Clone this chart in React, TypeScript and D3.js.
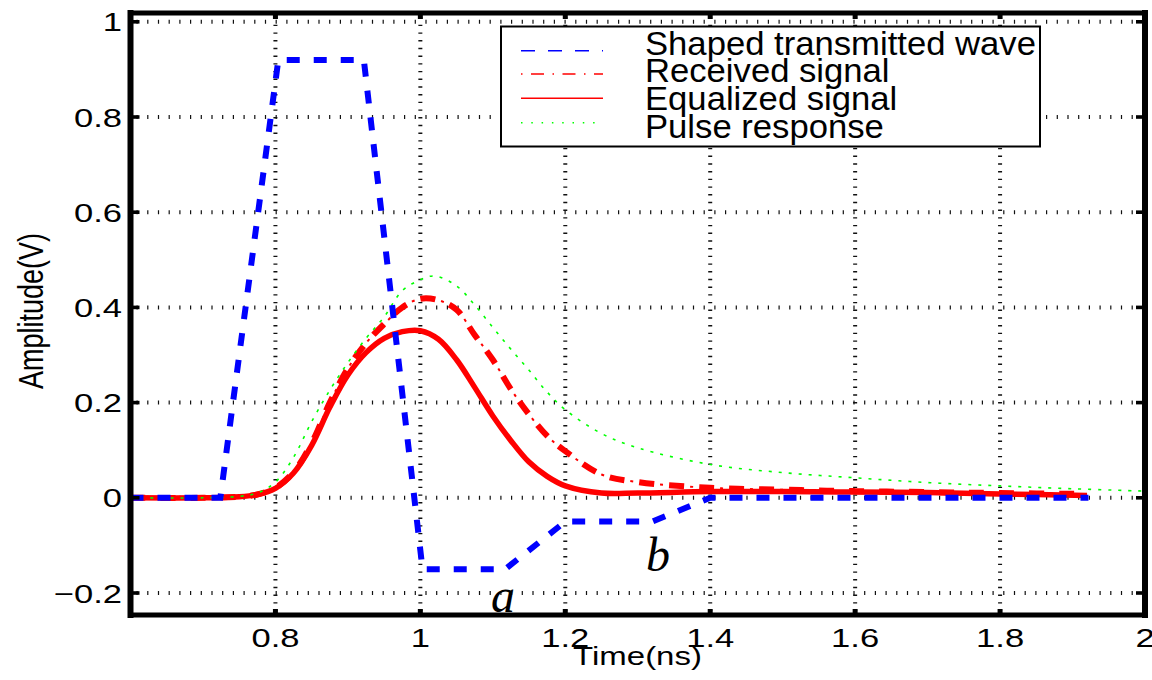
import React from "react";
import * as d3 from "d3";

// values
const shapedT = [0.6, 0.724, 0.804, 0.922, 1.003, 1.117, 1.2, 1.32, 1.4, 1.922];
const shapedV = [0, 0, 0.92, 0.92, -0.15, -0.15, -0.05, -0.05, 0, 0];

const sigT = [0.6, 0.7, 0.75, 0.775, 0.8, 0.825, 0.85, 0.875, 0.9, 0.925, 0.95, 0.975, 1.0, 1.025, 1.05, 1.075, 1.1, 1.125, 1.15, 1.175, 1.2, 1.25, 1.3, 1.4, 1.5, 1.6, 1.7, 1.8, 1.92];
const receivedV = [0, 0, 0.002, 0.007, 0.021, 0.054, 0.115, 0.2, 0.272, 0.325, 0.365, 0.4, 0.418, 0.415, 0.395, 0.342, 0.29, 0.228, 0.175, 0.13, 0.098, 0.049, 0.033, 0.021, 0.017, 0.014, 0.012, 0.01, 0.008];
const equalizedV = [0, 0, 0.002, 0.007, 0.02, 0.052, 0.11, 0.19, 0.258, 0.305, 0.335, 0.349, 0.351, 0.333, 0.29, 0.232, 0.172, 0.12, 0.075, 0.045, 0.025, 0.01, 0.01, 0.013, 0.013, 0.012, 0.011, 0.008, 0.005];

const pulseT = [0.6, 0.7, 0.75, 0.775, 0.8, 0.825, 0.85, 0.875, 0.9, 0.925, 0.95, 0.975, 1.0, 1.02, 1.05, 1.075, 1.1, 1.125, 1.15, 1.175, 1.2, 1.25, 1.3, 1.4, 1.5, 1.6, 1.7, 1.8, 1.9, 2.0];
const pulseV = [0, 0, 0.003, 0.01, 0.033, 0.085, 0.16, 0.226, 0.284, 0.335, 0.38, 0.435, 0.458, 0.466, 0.445, 0.405, 0.358, 0.312, 0.268, 0.222, 0.185, 0.135, 0.105, 0.07, 0.053, 0.042, 0.032, 0.025, 0.019, 0.014];

const xTicks = [0.8, 1, 1.2, 1.4, 1.6, 1.8, 2];
const yTicks = [-0.2, 0, 0.2, 0.4, 0.6, 0.8, 1];
const legendLabels = ["Shaped transmitted wave", "Received signal", "Equalized signal", "Pulse response"];

const W = 1152;
const H = 680;
const left = 130.5, right = 1145, top = 13, bottom = 615;
const SANS = "'Liberation Sans', Arial, Helvetica, sans-serif";

const zip = (t: number[], v: number[]) => t.map((d, i) => ({ t: d, v: v[i] }));

export default function App() {
  const x = d3.scaleLinear().domain([0.6, 2.0]).range([left, right]);
  const y = d3.scaleLinear().domain([-0.2, 1]).range([593, 21.8]);

  const straight = d3.line<{ t: number; v: number }>().x((d) => x(d.t)).y((d) => y(d.v));
  const smooth = d3
    .line<{ t: number; v: number }>()
    .x((d) => x(d.t))
    .y((d) => y(d.v))
    .curve(d3.curveCatmullRom.alpha(0.5));

  const shapedPath = straight(zip(shapedT, shapedV)) || "";
  const receivedPath = smooth(zip(sigT, receivedV)) || "";
  const equalizedPath = smooth(zip(sigT, equalizedV)) || "";
  const pulsePath = smooth(zip(pulseT, pulseV)) || "";

  const fmt = (v: number) => (v < 0 ? "\u2212" + Math.abs(v) : String(v));

  // legend geometry
  const lgX = 501, lgY = 26.5, lgW = 539, lgH = 120;
  const sampleY = [50.7, 74, 98.3, 122.7];
  const textY = [54.5, 82, 110, 138];

  return (
    <svg
      width={W}
      height={H}
      style={{ position: "absolute", left: 0, top: 0, background: "#fff" }}
      fontFamily={SANS}
    >
      <rect x={0} y={0} width={W} height={H} fill="#fff" />

      {/* grid */}
      <g stroke="#111">
        {yTicks.map((v) => (
          <line key={"gy" + v} x1={left + 6} x2={right - 4} y1={y(v)} y2={y(v)} strokeWidth={4} strokeDasharray="1.2,9.5" />
        ))}
        {xTicks.filter((v) => v < 2).map((v) => (
          <line key={"gx" + v} x1={x(v)} x2={x(v)} y1={top + 4} y2={bottom - 4} strokeWidth={4} strokeDasharray="1.4,6.3" />
        ))}
      </g>

      {/* curves */}
      <path d={receivedPath} fill="none" stroke="#ff0000" strokeWidth={6} strokeDasharray="15,15" />
      <path d={receivedPath} fill="none" stroke="#ff0000" strokeWidth={2} strokeDasharray="3,27" strokeDashoffset={-21} />
      <path d={equalizedPath} fill="none" stroke="#ff0000" strokeWidth={5.5} />
      <path d={pulsePath} fill="none" stroke="#00ff00" strokeWidth={1.6} strokeDasharray="3,7" />
      <path d={shapedPath} fill="none" stroke="#0000ff" strokeWidth={6} strokeDasharray="13,14" />

      {/* ticks */}
      <g fill="#000">
        {xTicks.map((v) => (
          <g key={"tx" + v}>
            <rect x={x(v) - 2.5} y={bottom - 6} width={5} height={6} />
            <rect x={x(v) - 2.5} y={top} width={5} height={6} />
          </g>
        ))}
        {yTicks.map((v) => (
          <g key={"ty" + v}>
            <rect x={left} y={y(v) - 1.8} width={9} height={3.6} />
            <rect x={right - 9} y={y(v) - 1.8} width={9} height={3.6} />
          </g>
        ))}
      </g>

      {/* axes box */}
      <g stroke="#000" strokeLinecap="square">
        <line x1={left} x2={right} y1={top} y2={top} strokeWidth={5} />
        <line x1={left} x2={right} y1={bottom} y2={bottom} strokeWidth={5} />
        <line x1={left} x2={left} y1={top} y2={bottom} strokeWidth={6} />
        <line x1={right} x2={right} y1={top} y2={bottom} strokeWidth={6} />
      </g>

      {/* tick labels */}
      <g fontSize={26} fill="#000">
        {xTicks.map((v) => (
          <text key={"lx" + v} transform={`translate(${x(v)},647) scale(1.33,1)`} textAnchor="middle">
            {fmt(v)}
          </text>
        ))}
        {yTicks.map((v) => (
          <text key={"ly" + v} transform={`translate(122,${y(v) + 9.5}) scale(1.33,1)`} textAnchor="end">
            {fmt(v)}
          </text>
        ))}
      </g>

      {/* axis titles */}
      <text transform={`translate(637.5,665) scale(1.32,1)`} textAnchor="middle" fontSize={25}>
        Time(ns)
      </text>
      <text transform={`translate(42.5,311) scale(1.33,1) rotate(-90)`} textAnchor="middle" fontSize={27}>
        Amplitude(V)
      </text>

      {/* annotations */}
      <text x={491} y={612} fontFamily="'Liberation Serif', 'Times New Roman', serif" fontStyle="italic" fontSize={48}>
        a
      </text>
      <text x={646} y={571} fontFamily="'Liberation Serif', 'Times New Roman', serif" fontStyle="italic" fontSize={48}>
        b
      </text>

      {/* legend */}
      <rect x={lgX} y={lgY} width={lgW} height={lgH} fill="#fff" stroke="#000" strokeWidth={2} />
      <line x1={521} x2={603} y1={sampleY[0]} y2={sampleY[0]} stroke="#0000ff" strokeWidth={1.5} strokeDasharray="14,13" />
      <line x1={521} x2={603} y1={sampleY[1]} y2={sampleY[1]} stroke="#ff0000" strokeWidth={1.5} strokeDasharray="1.5,8.5,13,8.5" />
      <line x1={521} x2={603} y1={sampleY[2]} y2={sampleY[2]} stroke="#ff0000" strokeWidth={1.5} />
      <line x1={521} x2={603} y1={sampleY[3]} y2={sampleY[3]} stroke="#00ff00" strokeWidth={1.5} strokeDasharray="1.5,8.8" />
      <g fontSize={33} fill="#000">
        {legendLabels.map((s, i) => (
          <text key={s} transform={`translate(645,${textY[i]}) scale(1.05,1)`}>
            {s}
          </text>
        ))}
      </g>
    </svg>
  );
}
